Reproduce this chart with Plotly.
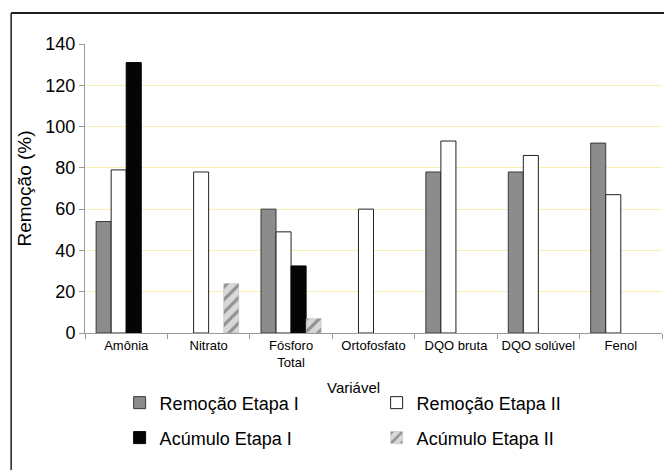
import plotly.graph_objects as go

categories = ["Amônia", "Nitrato", "Fósforo<br>Total", "Ortofosfato", "DQO bruta", "DQO solúvel", "Fenol"]
remocao_etapa1 = [54, None, 60, None, 78, 78, 92]
remocao_etapa2 = [79, 78, 49, 60, 93, 86, 67]
acumulo_etapa1 = [131, None, 32.5, None, None, None, None]
acumulo_etapa2 = [None, 24, 7, None, None, None, None]
y_ticks = [0, 20, 40, 60, 80, 100, 120, 140]

FONT = "Liberation Sans, Arial, Helvetica, sans-serif"

fig = go.Figure()
fig.add_trace(go.Bar(name="Remoção Etapa I", x=categories, y=remocao_etapa1,
                     marker=dict(color="#8c8c8c", line=dict(color="#3a3a3a", width=1)),
                     legend="legend"))
fig.add_trace(go.Bar(name="Remoção Etapa II", x=categories, y=remocao_etapa2,
                     marker=dict(color="#ffffff", line=dict(color="#222222", width=1)),
                     legend="legend"))
fig.add_trace(go.Bar(name="Acúmulo Etapa I", x=categories, y=acumulo_etapa1,
                     marker=dict(color="#050505", line=dict(color="#050505", width=1)),
                     legend="legend2"))
fig.add_trace(go.Bar(name="Acúmulo Etapa II", x=categories, y=acumulo_etapa2,
                     marker=dict(color="#d4d4d4", line=dict(color="#bbbbbb", width=0.5),
                                 pattern=dict(shape="/", fgcolor="#4a4a4a", bgcolor="#d8d8d8",
                                              size=9, solidity=0.35)),
                     legend="legend2"))

legend_common = dict(orientation="h", xanchor="left", yanchor="middle",
                     font=dict(family=FONT, size=18, color="#000000"),
                     entrywidth=212, bgcolor="rgba(0,0,0,0)", itemclick=False)

fig.update_layout(
    width=664, height=470,
    margin=dict(l=85, r=2, t=44, b=137),
    paper_bgcolor="#ffffff", plot_bgcolor="#ffffff",
    barmode="group", bargap=0.27, bargroupgap=0,
    font=dict(family=FONT, color="#000000"),
    showlegend=True,
    legend=dict(x=0.06, y=-0.242, **legend_common),
    legend2=dict(x=0.06, y=-0.363, **legend_common),
    xaxis=dict(showline=True, linecolor="#9a9a9a", linewidth=1,
               ticks="outside", tickson="boundaries", ticklen=5, tickcolor="#9a9a9a",
               tickangle=0,
               tickfont=dict(family=FONT, size=13, color="#000000"),
               showgrid=False),
    yaxis=dict(range=[0, 140], tickvals=y_ticks, showline=True, linecolor="#9a9a9a", linewidth=1,
               ticks="outside", ticklen=5, tickcolor="#9a9a9a",
               tickfont=dict(family=FONT, size=18, color="#000000"),
               showgrid=True, gridcolor="#f7efb4", gridwidth=1, zeroline=False,
               title=dict(text="Remoção (%)", font=dict(family=FONT, size=19, color="#000000"),
                          standoff=8)),
    annotations=[dict(text="Variável", xref="paper", yref="paper", x=0.4645, y=-0.19,
                      xanchor="center", yanchor="middle", showarrow=False,
                      font=dict(family=FONT, size=15, color="#000000"))],
    shapes=[
        dict(type="line", xref="paper", yref="paper", x0=-0.128, x1=1.01, y0=1.107, y1=1.107,
             line=dict(color="#1e1e1e", width=2)),
        dict(type="line", xref="paper", yref="paper", x0=-0.128, x1=-0.128, y0=1.107, y1=-0.48,
             line=dict(color="#1e1e1e", width=1.5)),
    ],
)

fig.write_html("out.html", config={"displayModeBar": False},
               post_script="document.body.style.margin='0px';")
